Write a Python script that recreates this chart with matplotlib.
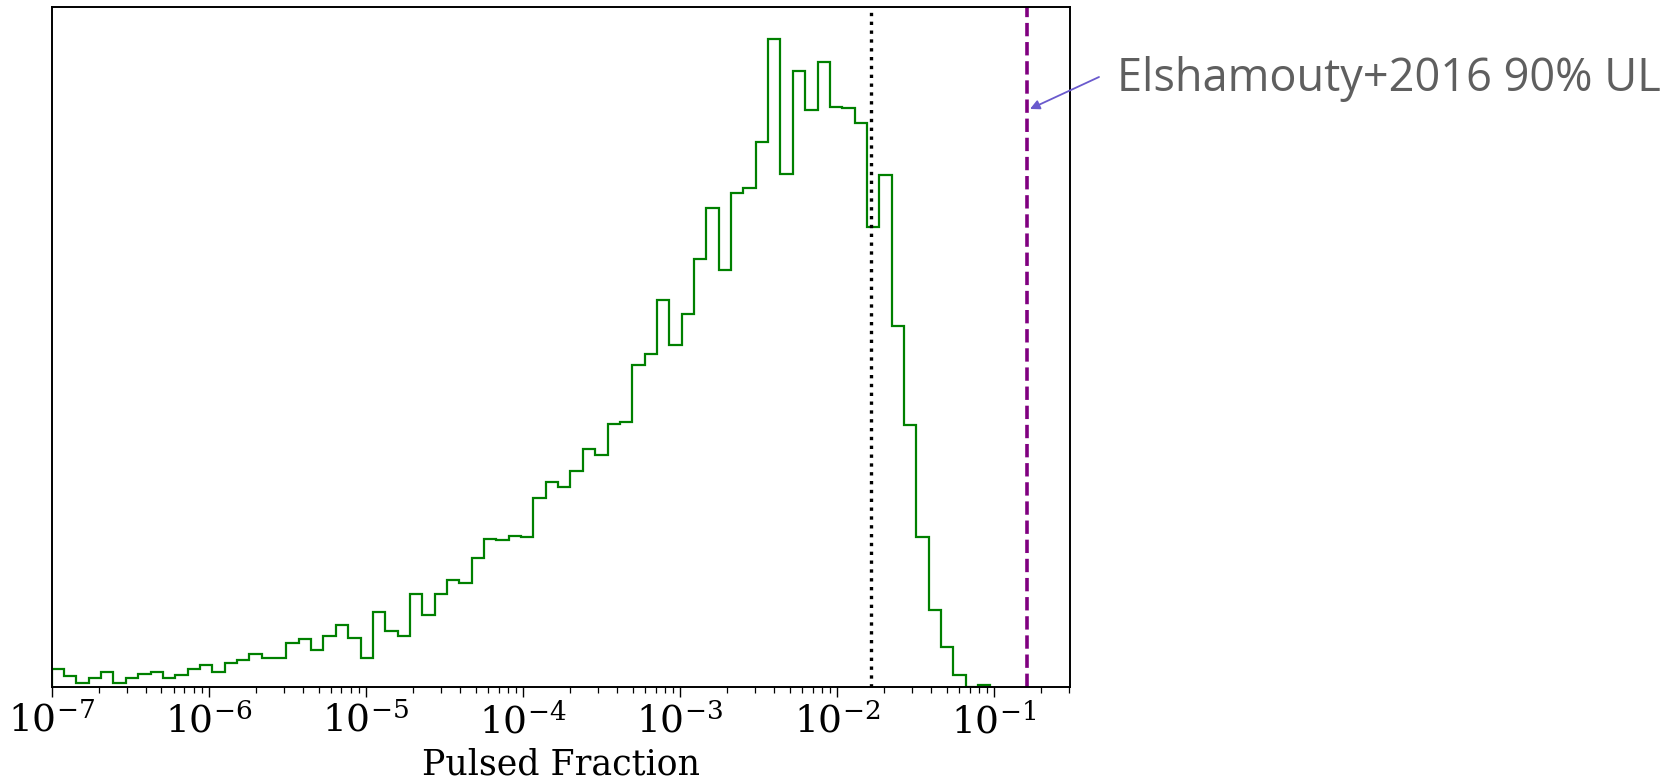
import numpy as np
import matplotlib
matplotlib.use("Agg")
import matplotlib.pyplot as plt

# histogram counts, bins are log spaced from 1e-7
counts = [18, 11, 4, 9, 15, 4, 9, 13, 15, 9,
          12, 18, 22, 15, 24, 27, 33, 29, 29, 44,
          48, 37, 51, 62, 49, 29, 75, 56, 51, 93,
          72, 93, 107, 104, 129, 148, 147, 151, 150, 189,
          205, 200, 216, 238, 232, 263, 265, 322, 333, 387,
          342, 373, 428, 479, 417, 494, 499, 545, 648, 513,
          616, 577, 625, 580, 579, 564, 460, 512, 361, 262,
          150, 77, 40, 12, 0, 2]
bin_edges = np.logspace(-7, 0, 90)[:len(counts) + 1]

# vertical reference lines
pf_limit = 0.0164        # dotted black line
ul_elshamouty = 0.163    # Elshamouty+2016 90% UL
ul_label = "Elshamouty+2016 90% UL"

plt.rcParams['mathtext.fontset'] = 'dejavuserif'
plt.rcParams['font.family'] = 'DejaVu Serif'

fig = plt.figure(figsize=(16.73, 7.82), dpi=100)
ax = fig.add_axes([0.0309, 0.1221, 0.6087, 0.8689])

ax.stairs(counts, bin_edges, color='green', linewidth=1.6)
ax.axvline(pf_limit, color='black', linestyle=':', linewidth=2.4)
ax.axvline(ul_elshamouty, color='purple', linestyle='--', linewidth=2.6)

ax.set_xscale('log')
ax.set_xlim(1e-7, 0.305)
ax.set_ylim(0, max(counts) * 1.05)
ax.set_yticks([])
ax.set_xticks([10.0**k for k in range(-7, 0)])
ax.set_xlabel('Pulsed Fraction', fontsize=25, labelpad=5)
ax.tick_params(axis='x', which='major', labelsize=27, length=7, width=1.0, pad=5)
ax.tick_params(axis='x', which='minor', length=4, width=0.9)
for sp in ax.spines.values():
    sp.set_linewidth(1.4)

# label and arrow pointing at the purple line
fig.text(1117 / 1673, 1 - 79 / 782, ul_label, fontsize=32.5, family='Open Sans',
         color='#5f5f5f', ha='left', va='center')
ax.annotate('', xy=(ul_elshamouty * 1.04, 0.85), xycoords=('data', 'axes fraction'),
            xytext=(1099 / 1673, 1 - 77 / 782), textcoords='figure fraction',
            arrowprops=dict(arrowstyle='-|>', color='#6a5acd', lw=1.3,
                            mutation_scale=14, shrinkA=0, shrinkB=0),
            annotation_clip=False)

fig.savefig('out.png', dpi=100)
